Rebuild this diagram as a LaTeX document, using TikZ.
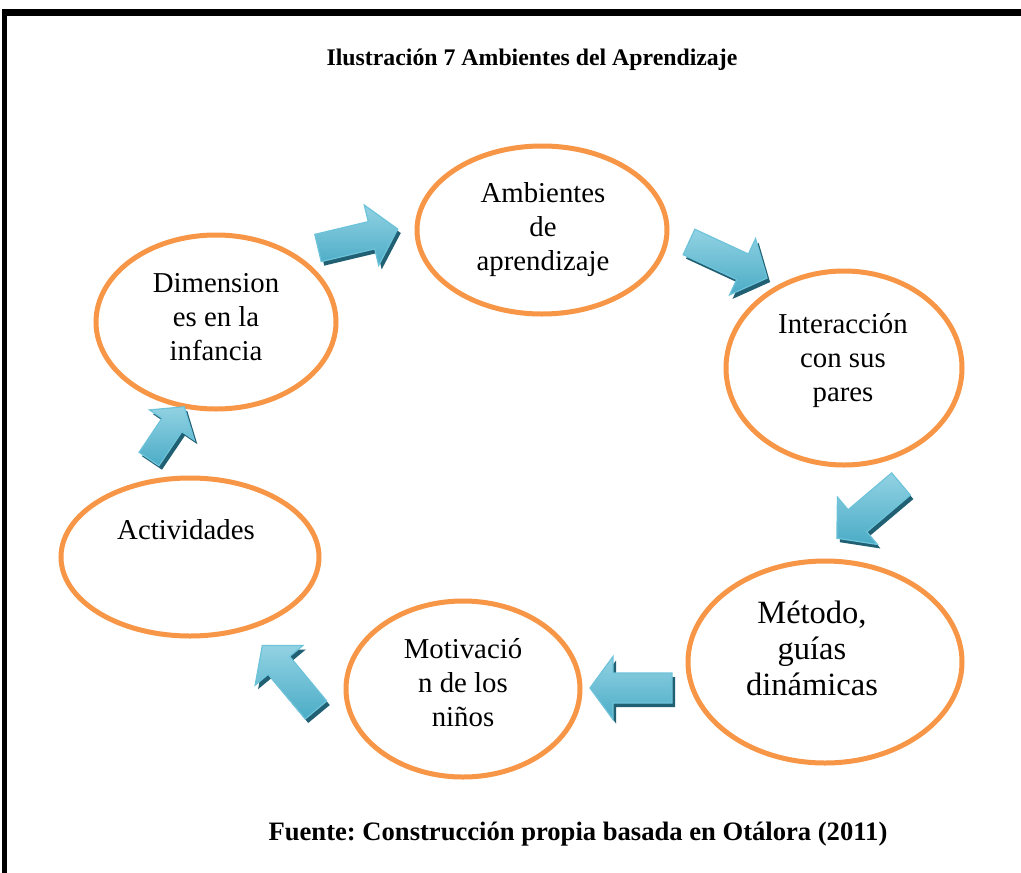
\documentclass[tikz,border=0pt]{standalone}
\usepackage{fontspec}
\setmainfont{Liberation Serif}
\usetikzlibrary{shapes.geometric}
\frenchspacing
\definecolor{orng}{HTML}{F79646}
\definecolor{arrmid}{HTML}{4BACC6}
\definecolor{arrlight}{HTML}{92D2E3}
\definecolor{arrdark}{HTML}{215F72}
\definecolor{arredge}{HTML}{6DC3DA}
\newcommand\blockarr[7]{%
 \begin{scope}[shift={(#1+3,-#2-4)},rotate=#3]
  \fill[arrdark] (0,-#5)--(#4-#7,-#5)--(#4-#7,-#6)--(#4,0)--(#4-#7,#6)--(#4-#7,#5)--(0,#5)--cycle;
 \end{scope}
 \begin{scope}[shift={(#1,-#2)},rotate=#3]
  \path[top color=arrlight,bottom color=arrmid,draw=arredge,line width=1.2pt,line join=miter]
   (0,-#5)--(#4-#7,-#5)--(#4-#7,-#6)--(#4,0)--(#4-#7,#6)--(#4-#7,#5)--(0,#5)--cycle;
 \end{scope}}
\tikzset{
 ell/.style={ellipse,draw=orng,line width=5pt,inner sep=0pt},
 txt/.style={align=center,inner sep=0pt,font=\fontsize{28.8}{34}\selectfont},
 txtbig/.style={align=center,inner sep=0pt,font=\fontsize{32.5}{36}\selectfont}
}
\begin{document}
\begin{tikzpicture}[x=1pt,y=1pt]
\useasboundingbox (0,0) rectangle (1021,-873);
\fill[white] (0,0) rectangle (1021,-873);
% frame
\draw[line width=7pt] (2,-12.5) -- (1021,-12.5);
\draw[line width=5pt] (4.5,-9) -- (4.5,-873);
% title and source
\node[font=\fontsize{23.8}{28}\selectfont\bfseries,inner sep=0pt] (title) at (532,-60) {Ilustración 7 Ambientes del Aprendizaje};
\node[font=\fontsize{26.6}{30}\selectfont\bfseries,inner sep=0pt] (src) at (578,-834) {Fuente: Construcción propia basada en Otálora (2011)};
% ellipses
\node[ell,minimum width=250pt,minimum height=168pt] (amb) at (542,-230) {};
\node[ell,minimum width=236pt,minimum height=194pt] (int) at (844,-368) {};
\node[ell,minimum width=274pt,minimum height=202pt] (met) at (825,-662) {};
\node[ell,minimum width=234pt,minimum height=176pt] (mot) at (463,-689) {};
\node[ell,minimum width=258pt,minimum height=158pt] (act) at (190,-557) {};
\node[ell,minimum width=240pt,minimum height=174pt] (dim) at (216,-322) {};
% texts
\node[txt] (tamb) at (543,-230) {Ambientes\\de\\aprendizaje};
\node[txt] (tint) at (843,-361) {Interacción\\con sus\\pares};
\node[txtbig] (tmet) at (812,-648) {Método,\\guías\\dinámicas};
\node[txt] (tmot) at (463,-683) {Motivació\\n de los\\niños};
\node[txt] (tact) at (186,-530) {Actividades};
\node[txt] (tdim) at (216,-317) {Dimension\\es en la\\infancia};
% block arrows
\blockarr{318}{248}{13.4}{82}{14}{31}{27}
\blockarr{689}{242}{-24.8}{86}{14}{31}{27}
\blockarr{901}{484}{-139.8}{84}{14.5}{31}{27}
\blockarr{672}{688}{180}{82}{15}{31.5}{23}
\blockarr{316}{710}{129.7}{84}{14}{31}{26}
\blockarr{149}{459}{56}{63}{12}{27}{22}
\end{tikzpicture}
\end{document}
